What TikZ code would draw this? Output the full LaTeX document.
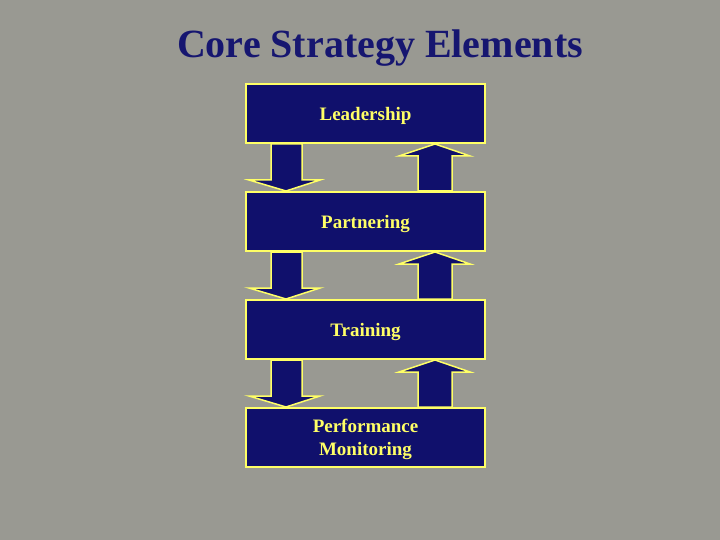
\documentclass[tikz,border=0pt]{standalone}
\usepackage{fontspec}
\setmainfont{Liberation Serif}
\usetikzlibrary{positioning,calc}

\definecolor{slidegray}{RGB}{153,153,146}
\definecolor{boxnavy}{RGB}{16,16,108}
\definecolor{lineyellow}{RGB}{255,255,102}
\definecolor{titlenavy}{RGB}{22,22,112}

\tikzset{
  element/.style={draw=lineyellow, fill=boxnavy, line width=2pt,
    minimum width=239pt, minimum height=59pt, text=lineyellow, text depth=0pt,
    font=\bfseries\fontsize{19}{23}\selectfont, align=center},
  blockarrow/.style={draw=lineyellow, fill=boxnavy, line width=1.5pt, line join=miter}
}

% block arrow down, from box #1 to box #2 (left side)
\newcommand{\downblock}[2]{%
  \draw[blockarrow] let \p1=(#1.south west), \p2=(#2.north west) in
    (\x1+26pt,\y1) -- (\x1+57pt,\y1) -- (\x1+57pt,\y2+11pt) -- (\x1+75pt,\y2+11pt)
    -- (\x1+41pt,\y2) -- (\x1+4pt,\y2+11pt) -- (\x1+26pt,\y2+11pt) -- cycle;}
% block arrow up, from box #1 to box #2 (right side)
\newcommand{\upblock}[2]{%
  \draw[blockarrow] let \p1=(#1.north east), \p2=(#2.south east) in
    (\x1-68pt,\y1) -- (\x1-68pt,\y2-12pt) -- (\x1-87pt,\y2-12pt) -- (\x1-51pt,\y2)
    -- (\x1-16pt,\y2-12pt) -- (\x1-34pt,\y2-12pt) -- (\x1-34pt,\y1) -- cycle;}

\begin{document}
\begin{tikzpicture}[x=1pt,y=-1pt]
\fill[slidegray] (0,0) rectangle (720,540);
\useasboundingbox (0,0) rectangle (720,540);

\node[font=\bfseries\fontsize{40}{42}\selectfont, text=titlenavy, anchor=base] (title) at (380,58) {Core Strategy Elements};

\node[element] (lead) at (365.5,113.5) {Leadership};
\node[element, below=47pt of lead] (partner) {Partnering};
\node[element, below=47pt of partner] (train) {Training};
\node[element, below=47pt of train] (perf) {Performance\\Monitoring};

\downblock{lead}{partner}
\downblock{partner}{train}
\downblock{train}{perf}
\upblock{partner}{lead}
\upblock{train}{partner}
\upblock{perf}{train}
\end{tikzpicture}
\end{document}
